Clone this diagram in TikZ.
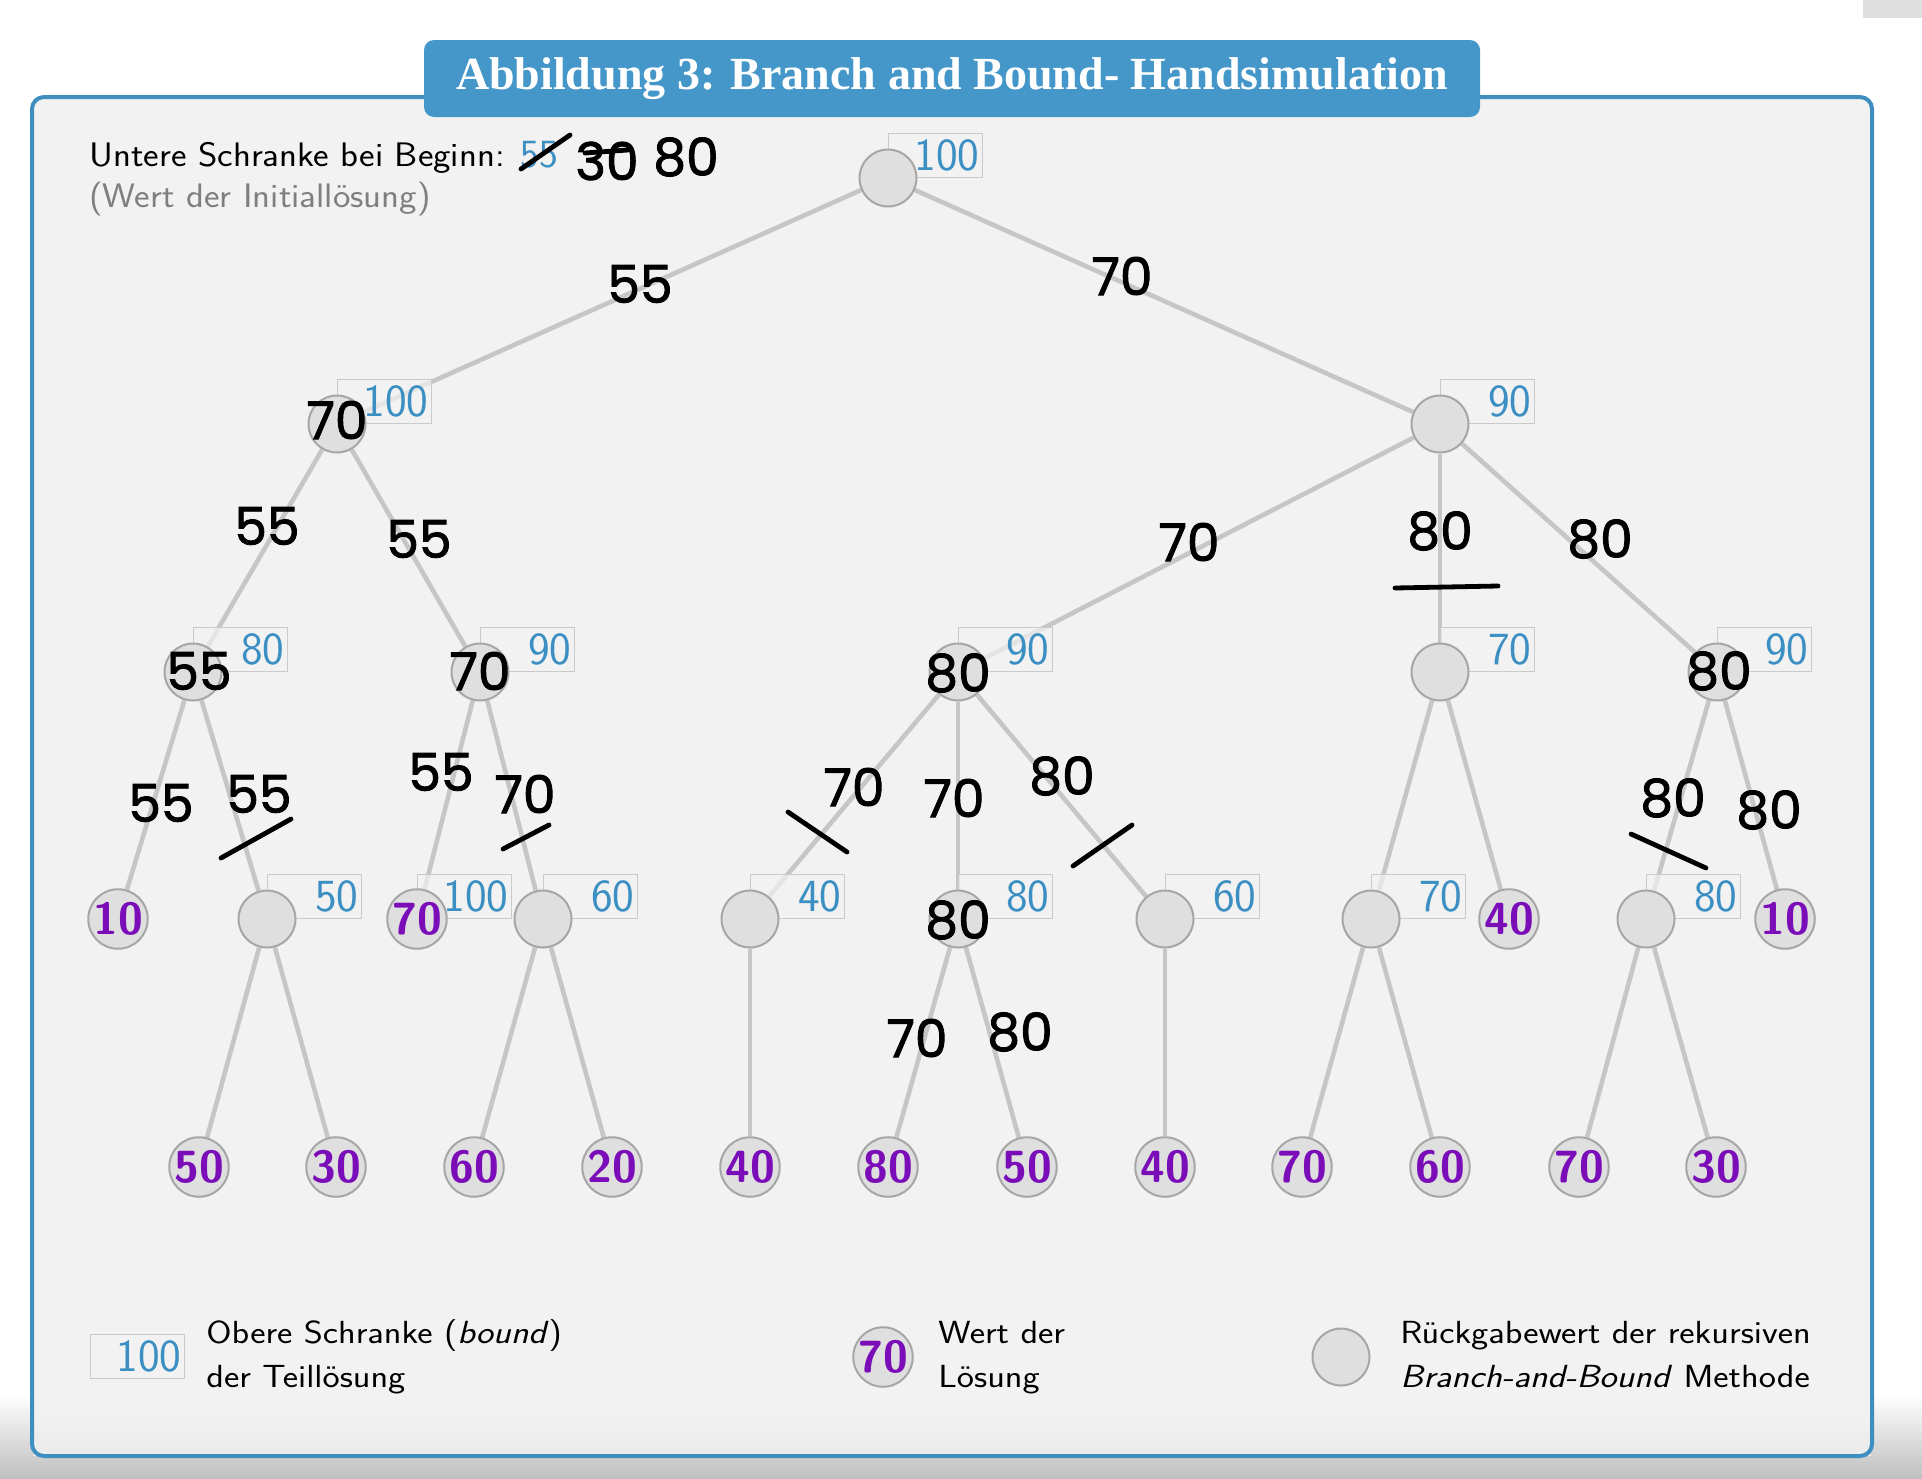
\documentclass[tikz,border=0pt]{standalone}
\usepackage{fontspec}
\newfontfamily\titlefont{Liberation Serif}
\newfontfamily\handfont{Poppins}[FakeBold=1.6]
\newfontfamily\wideheading{Latin Modern Sans}[FakeStretch=1.09]
\newfontfamily\widelegend{Latin Modern Sans}[FakeStretch=1.14]
\definecolor{boundblue}{HTML}{3C8FC2}
\definecolor{leafpurple}{HTML}{7A0DB8}
\definecolor{framebg}{HTML}{F2F2F2}
\definecolor{frameblue}{HTML}{3E8EC0}
\definecolor{titleblue}{HTML}{4597CA}
\definecolor{edgegray}{HTML}{C6C6C6}
\definecolor{nodefill}{HTML}{DFDFDF}
\definecolor{nodedraw}{HTML}{A6A6A6}
\definecolor{boxgray}{HTML}{CACACA}
\definecolor{notegray}{HTML}{7F7F7F}
\definecolor{shadowgray}{HTML}{BFBFBF}
\pgfdeclarelayer{frame}
\pgfdeclarelayer{edges}
\pgfsetlayers{frame,edges,main}

\begin{document}
\begin{tikzpicture}[x=0.5pt,y=-0.5pt,
  edge/.style={draw=edgegray,line width=2.3pt},
  inner/.style={circle,draw=nodedraw,fill=nodefill,line width=1pt,minimum size=28.5pt,inner sep=0pt},
  leaf/.style={inner,text=leafpurple,font=\fontsize{22.5}{22.5}\selectfont\sffamily\bfseries},
  bnd/.style={anchor=south west,draw=boxgray,line width=0.5pt,fill=framebg,fill opacity=0.7,text opacity=1,
    text=boundblue,font=\fontsize{23}{23}\selectfont\sffamily,text width=44pt,align=right,
    inner xsep=1.5pt,inner ysep=0pt,minimum height=22pt},
  hand/.style={font=\fontsize{26}{26}\selectfont\handfont,text=black,inner sep=0pt},
  strike/.style={black,line width=2.4pt,line cap=round},
  heading/.style={anchor=base west,inner sep=0pt,font=\fontsize{17}{17}\selectfont\wideheading},
  legend/.style={anchor=base west,align=left,font=\fontsize{16}{22}\selectfont\widelegend,inner sep=0pt}]
  \useasboundingbox (0,0) rectangle (1922,1478);

  % slide frame and title
  \begin{pgfonlayer}{frame}
    \fill[white] (0,0) rectangle (1922,1478);
    \shade[top color=white,middle color=white!85!shadowgray,bottom color=shadowgray] (0,1395) rectangle (1922,1478);
    \fill[framebg,rounded corners=6pt] (32,97) rectangle (1872,1456);
    \shade[top color=framebg,bottom color=framebg!85!shadowgray] (33,1410) rectangle (1871,1455);
    \draw[frameblue,line width=2pt,rounded corners=6pt] (32,97) rectangle (1872,1456);
    \fill[framebg!92!black] (1863,0) rectangle (1922,18);
  \end{pgfonlayer}
  \node[fill=titleblue,rounded corners=5pt,minimum width=528pt,minimum height=38.5pt,inner sep=0pt,
    text=white,font=\fontsize{23}{23}\selectfont\titlefont\bfseries] (title) at (952,78.5)
    {Abbildung 3: Branch and Bound- Handsimulation};

  \node[heading] (lbtext) at (89,166) {Untere Schranke bei Beginn:};
  \node[heading,text=notegray] (lbnote) at (89,207) {(Wert der Initiallösung)};
  \node[anchor=base west,inner sep=0pt,font=\fontsize{20}{20}\selectfont\sffamily,text=boundblue] (lbold) at (520,167) {55};

  % bounds
  \node[bnd] (b0) at (888,178) {100};
  \node[bnd] (b1) at (337,424) {100};
  \node[bnd] (b2) at (1440,424) {90};
  \node[bnd] (b11) at (193,672) {80};
  \node[bnd] (b12) at (480,672) {90};
  \node[bnd] (b21) at (958,672) {90};
  \node[bnd] (b22) at (1440,672) {70};
  \node[bnd] (b23) at (1717,672) {90};
  \node[bnd] (b112) at (267,919) {50};
  \node[bnd] (b121) at (417,919) {100};
  \node[bnd] (b122) at (543,919) {60};
  \node[bnd] (b211) at (750,919) {40};
  \node[bnd] (b212) at (958,919) {80};
  \node[bnd] (b213) at (1165,919) {60};
  \node[bnd] (b221) at (1371,919) {70};
  \node[bnd] (b231) at (1646,919) {80};

  % tree nodes
  \node[inner] (n0) at (888,178) {};
  \node[inner] (n1) at (337,424) {};
  \node[inner] (n2) at (1440,424) {};
  \node[inner] (n11) at (193,672) {};
  \node[inner] (n12) at (480,672) {};
  \node[inner] (n21) at (958,672) {};
  \node[inner] (n22) at (1440,672) {};
  \node[inner] (n23) at (1717,672) {};
  \node[leaf] (n111) at (118,919) {10};
  \node[inner] (n112) at (267,919) {};
  \node[leaf] (n121) at (417,919) {70};
  \node[inner] (n122) at (543,919) {};
  \node[inner] (n211) at (750,919) {};
  \node[inner] (n212) at (958,919) {};
  \node[inner] (n213) at (1165,919) {};
  \node[inner] (n221) at (1371,919) {};
  \node[leaf] (n222) at (1509,919) {40};
  \node[inner] (n231) at (1646,919) {};
  \node[leaf] (n232) at (1785,919) {10};
  \node[leaf] (n1121) at (199,1167) {50};
  \node[leaf] (n1122) at (336,1167) {30};
  \node[leaf] (n1221) at (474,1167) {60};
  \node[leaf] (n1222) at (612,1167) {20};
  \node[leaf] (n2111) at (750,1167) {40};
  \node[leaf] (n2121) at (888,1167) {80};
  \node[leaf] (n2122) at (1027,1167) {50};
  \node[leaf] (n2131) at (1165,1167) {40};
  \node[leaf] (n2211) at (1302,1167) {70};
  \node[leaf] (n2212) at (1440,1167) {60};
  \node[leaf] (n2311) at (1579,1167) {70};
  \node[leaf] (n2312) at (1716,1167) {30};

  \begin{pgfonlayer}{edges}
    \draw[edge] (n0) -- (n1);
    \draw[edge] (n0) -- (n2);
    \draw[edge] (n1) -- (n11);
    \draw[edge] (n1) -- (n12);
    \draw[edge] (n2) -- (n21);
    \draw[edge] (n2) -- (n22);
    \draw[edge] (n2) -- (n23);
    \draw[edge] (n11) -- (n111);
    \draw[edge] (n11) -- (n112);
    \draw[edge] (n12) -- (n121);
    \draw[edge] (n12) -- (n122);
    \draw[edge] (n21) -- (n211);
    \draw[edge] (n21) -- (n212);
    \draw[edge] (n21) -- (n213);
    \draw[edge] (n22) -- (n221);
    \draw[edge] (n22) -- (n222);
    \draw[edge] (n23) -- (n231);
    \draw[edge] (n23) -- (n232);
    \draw[edge] (n112) -- (n1121);
    \draw[edge] (n112) -- (n1122);
    \draw[edge] (n122) -- (n1221);
    \draw[edge] (n122) -- (n1222);
    \draw[edge] (n211) -- (n2111);
    \draw[edge] (n212) -- (n2121);
    \draw[edge] (n212) -- (n2122);
    \draw[edge] (n213) -- (n2131);
    \draw[edge] (n221) -- (n2211);
    \draw[edge] (n221) -- (n2212);
    \draw[edge] (n231) -- (n2311);
    \draw[edge] (n231) -- (n2312);
  \end{pgfonlayer}

  % legend
  \node[bnd] (lgbox) at (90,1379) {100};
  \node[legend] (lgtext1) at (206,1387) {Obere Schranke (\textit{bound})\\der Teillösung};
  \node[leaf] (lgleaf) at (883,1357) {70};
  \node[legend] (lgtext2) at (938,1387) {Wert der\\Lösung};
  \node[inner] (lginner) at (1341,1357) {};
  \node[legend] (lgtext3) at (1400,1387) {Rückgabewert der rekursiven\\\textit{Branch-and-Bound} Methode};

  % handwritten notes
  \node[hand] (hs30) at (607,161) {30};
  \node[hand] (hs80) at (686,157) {80};
  \draw[strike] (521,169) -- (570,135);
  \draw[strike] (585,153) -- (628,150);
  \node[hand] (h01) at (640,284) {55};
  \node[hand] (h02) at (1122,276) {70};
  \node[hand] (h1) at (337,420) {70};
  \node[hand] (h11) at (267,526) {55};
  \node[hand] (h12) at (419,539) {55};
  \node[hand] (h1v) at (199,671) {55};
  \node[hand] (h2v) at (480,671) {70};
  \node[hand] (h111) at (161,803) {55};
  \node[hand] (h112) at (259,794) {55};
  \node[hand] (h121) at (441,772) {55};
  \node[hand] (h122) at (525,794) {70};
  \draw[strike] (221,858) -- (291,819);
  \draw[strike] (503,849) -- (549,825);
  \node[hand] (h21) at (1189,542) {70};
  \node[hand] (h22) at (1440,531) {80};
  \node[hand] (h23) at (1600,539) {80};
  \draw[strike] (1395,588) -- (1498,586);
  \node[hand] (h21v) at (958,673) {80};
  \node[hand] (h211) at (854,787) {70};
  \node[hand] (h212) at (954,798) {70};
  \node[hand] (h213) at (1062,776) {80};
  \draw[strike] (788,812) -- (847,852);
  \draw[strike] (1073,866) -- (1132,825);
  \node[hand] (h212v) at (958,920) {80};
  \node[hand] (h2121) at (917,1038) {70};
  \node[hand] (h2122) at (1020,1032) {80};
  \node[hand] (h23v) at (1719,671) {80};
  \node[hand] (h231) at (1673,798) {80};
  \node[hand] (h232) at (1769,810) {80};
  \draw[strike] (1631,834) -- (1706,868);
\end{tikzpicture}
\end{document}
